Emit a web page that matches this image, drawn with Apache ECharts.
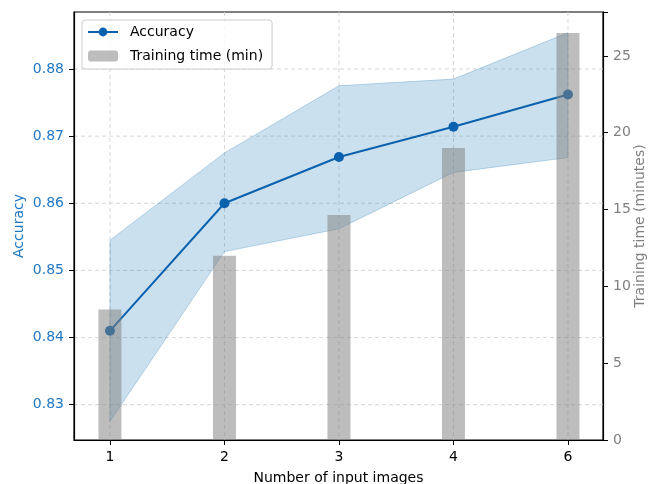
<!DOCTYPE html>
<html><head><meta charset="utf-8">
<script src="https://cdn.jsdelivr.net/npm/echarts@6/dist/echarts.min.js"></script>
<style>html,body{margin:0;padding:0;background:#fff}#c{width:651px;height:484px}</style>
</head><body><div id="c"></div>
<script>
const categories = ['1', '2', '3', '4', '6'];
const accuracy = [0.8410, 0.8600, 0.8669, 0.8714, 0.8762];
const accuracyUpper = [0.8545, 0.8675, 0.8775, 0.8785, 0.8854];
const accuracyLower = [0.8275, 0.8528, 0.8562, 0.8646, 0.8668];
const trainingTime = [8.5, 12.0, 14.65, 19.0, 26.5];
const accTicks = [0.83, 0.84, 0.85, 0.86, 0.87, 0.88];
const timeTicks = [0, 5, 10, 15, 20, 25];

const FONT = 'DejaVu Sans';
const idx = categories.map((_, i) => i);
const chart = echarts.init(document.getElementById('c'), null, {renderer: 'canvas'});
const gridStyle = {stroke: '#d3d3d3', lineWidth: 0.9, lineDash: [4, 3]};

const option = {
  animation: false,
  backgroundColor: '#fff',
  grid: {left: 74, right: 48, top: 12, bottom: 44, show: true, borderColor: '#000', borderWidth: 1.2,
    backgroundColor: 'transparent', containLabel: false, outerBoundsMode: 'none'},
  legend: {
    left: 82, top: 20, orient: 'vertical',
    data: ['Accuracy', 'Training time (min)'],
    backgroundColor: 'rgba(255,255,255,0.8)', borderColor: '#cccccc', borderWidth: 1, borderRadius: 3,
    padding: [5, 9, 6, 5], itemWidth: 30, itemHeight: 11, itemGap: 10,
    textStyle: {fontFamily: FONT, fontSize: 14, color: '#000', padding: [0, 0, 0, 7]}
  },
  xAxis: {
    type: 'value', min: -0.314, max: 4.306,
    name: 'Number of input images', nameLocation: 'middle', nameGap: 31, nameMoveOverlap: false,
    nameTextStyle: {fontFamily: FONT, fontSize: 14, color: '#000'},
    axisLine: {show: true, onZero: false, lineStyle: {color: '#000', width: 1.2}},
    axisTick: {show: true, length: 5, customValues: idx, lineStyle: {color: '#000'}},
    axisLabel: {customValues: idx, margin: 10, fontFamily: FONT, fontSize: 14, color: '#000',
      formatter: v => categories[Math.round(v)]},
    splitLine: {show: false}
  },
  yAxis: [{
    type: 'value', min: 0.82474, max: 0.88849, position: 'left',
    name: 'Accuracy', nameLocation: 'middle', nameGap: 48, nameMoveOverlap: false,
    nameTextStyle: {fontFamily: FONT, fontSize: 14, color: '#1f77c4'},
    axisLine: {show: true, onZero: false, lineStyle: {color: '#000', width: 1.2}},
    axisTick: {show: true, length: 5, customValues: accTicks, lineStyle: {color: '#000'}},
    axisLabel: {customValues: accTicks, margin: 10, fontFamily: FONT, fontSize: 14, color: '#1f77c4',
      formatter: v => v.toFixed(2)},
    splitLine: {show: false}
  }, {
    type: 'value', min: 0, max: 27.86, interval: 5, position: 'right',
    name: 'Training time (minutes)', nameLocation: 'middle', nameGap: 30, nameMoveOverlap: false,
    nameTextStyle: {fontFamily: FONT, fontSize: 14, color: '#808080'},
    axisLine: {show: true, onZero: false, lineStyle: {color: '#000', width: 1.2}},
    axisTick: {show: true, length: 5, lineStyle: {color: '#000'}},
    axisLabel: {margin: 10, fontFamily: FONT, fontSize: 14, color: '#808080',
      formatter: v => (timeTicks.indexOf(v) >= 0 ? String(v) : '')},
    splitLine: {show: false}
  }],
  series: [
    {
      type: 'custom', z: 0, silent: true,
      data: idx.map(i => [i, accTicks[0]]),
      encode: {x: 0, y: 1},
      renderItem: function (params, api) {
        const cs = params.coordSys;
        const x = api.coord([api.value(0), api.value(1)])[0];
        return {type: 'line', shape: {x1: x, y1: cs.y, x2: x, y2: cs.y + cs.height}, style: gridStyle};
      }
    },
    {
      type: 'custom', z: 0, silent: true,
      data: accTicks.map(v => [0, v]),
      encode: {x: 0, y: 1},
      renderItem: function (params, api) {
        const cs = params.coordSys;
        const y = api.coord([api.value(0), api.value(1)])[1];
        return {type: 'line', shape: {x1: cs.x, y1: y, x2: cs.x + cs.width, y2: y}, style: gridStyle};
      }
    },
    {
      type: 'custom', z: 1, silent: true,
      data: idx.map(i => [i, accuracyLower[i], accuracyUpper[i]]),
      encode: {x: 0, y: [1, 2]},
      renderItem: function (params, api) {
        if (params.dataIndex !== 0) return;
        const pts = [];
        for (let i = 0; i < idx.length; i++) pts.push(api.coord([idx[i], accuracyUpper[i]]));
        for (let i = idx.length - 1; i >= 0; i--) pts.push(api.coord([idx[i], accuracyLower[i]]));
        return {type: 'polygon', shape: {points: pts},
          style: {fill: 'rgba(31,119,180,0.23)', stroke: 'rgba(31,119,180,0.28)', lineWidth: 1}};
      }
    },
    {
      name: 'Accuracy', type: 'line', z: 2, yAxisIndex: 0,
      data: idx.map(i => [i, accuracy[i]]),
      symbol: 'circle', symbolSize: 10,
      lineStyle: {color: '#0a62ae', width: 2},
      itemStyle: {color: '#0a62ae'}
    },
    {
      name: 'Training time (min)', type: 'bar', z: 3, yAxisIndex: 1,
      data: idx.map(i => [i, trainingTime[i]]),
      barWidth: 23,
      itemStyle: {color: 'rgba(128,128,128,0.52)'}
    }
  ]
};
chart.setOption(option);
</script></body></html>
